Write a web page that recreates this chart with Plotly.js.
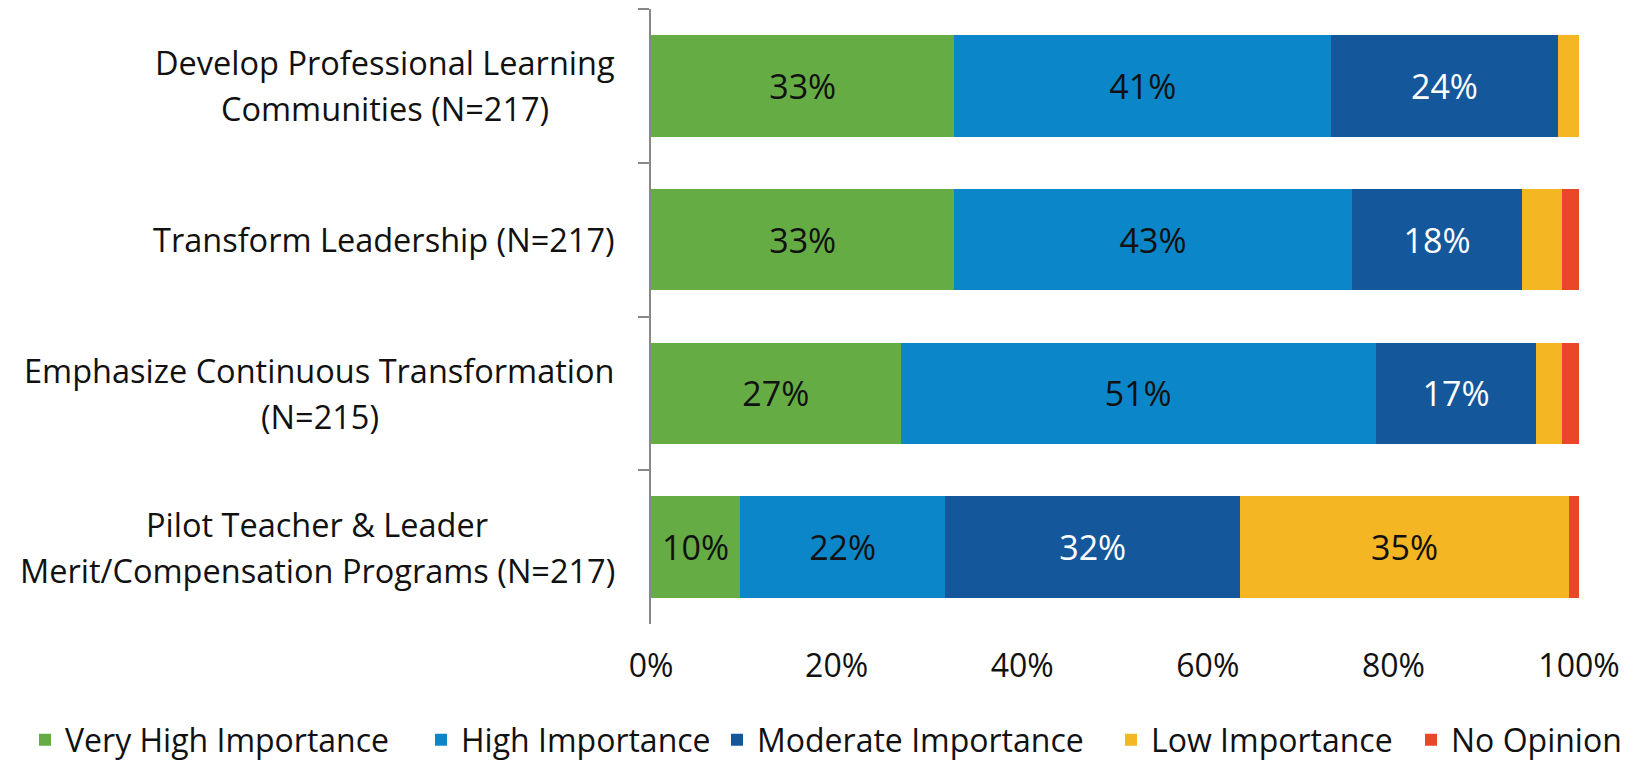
<!DOCTYPE html>
<html>
<head>
<meta charset="utf-8">
<script src="https://cdn.plot.ly/plotly-3.0.1.min.js"></script>
<style>html,body{margin:0;padding:0;background:#fff;}#chart{width:1637px;height:762px;}</style>
</head>
<body>
<div id="chart"></div>
<script>
const categories = [
  "Develop Professional Learning<br>Communities (N=217)",
  "Transform Leadership (N=217)",
  "Emphasize Continuous Transformation<br>(N=215)",
  "Pilot Teacher & Leader<br>Merit/Compensation Programs (N=217)"
];
const seriesNames = ["Very High Importance", "High Importance", "Moderate Importance", "Low Importance", "No Opinion"];
const veryHigh = [32.7, 32.7, 26.9, 9.6];
const high     = [40.6, 42.8, 51.2, 22.1];
const moderate = [24.4, 18.4, 17.3, 31.8];
const low      = [2.3, 4.3, 2.8, 35.4];
const noOpinion= [0.0, 1.8, 1.8, 1.1];
const xTickVals = [0, 20, 40, 60, 80, 100];

const colors = ["#65AC45", "#0B87C9", "#15579B", "#F4B622", "#EA4629"];
const textColors = ["#111111", "#111111", "#ffffff", "#111111", "#111111"];
const FONT = "Open Sans, sans-serif";
const FS_CAT = 32.5, FS_BAR = 34, FS_TICK = 32, FS_LEG = 32;

// legend entry left edges (px) so each entry sits like the reference's one-row legend
const legendLeftPx = [25, 421, 717, 1111, 1411];
const legendKeys = ["legend", "legend2", "legend3", "legend4", "legend5"];

const allSeries = [veryHigh, high, moderate, low, noOpinion];
const traces = allSeries.map((vals, i) => ({
  type: "bar",
  orientation: "h",
  name: seriesNames[i],
  legend: legendKeys[i],
  y: categories,
  x: vals,
  marker: {color: colors[i], line: {width: 0}},
  text: vals.map(v => v >= 8 ? Math.round(v) + "%" : ""),
  textposition: "inside",
  insidetextanchor: "middle",
  textangle: 0,
  constraintext: "none",
  textfont: {family: FONT, size: FS_BAR, color: textColors[i]},
  hoverinfo: "skip"
}));

const LINE_H = 46;
const RIGHT_GAP = 36;

function buildAnnotations(measure) {
  const out = [];
  categories.forEach(cat => {
    const lines = cat.split("<br>");
    const n = lines.length;
    const maxW = measure ? Math.max(...lines.map(measure)) : 0;
    lines.forEach((ln, j) => {
      out.push({
        xref: "paper", yref: "y", x: 0, y: cat,
        xanchor: "center", yanchor: "middle",
        xshift: -RIGHT_GAP - maxW / 2,
        yshift: ((n - 1) / 2 - j) * LINE_H,
        text: ln, showarrow: false,
        font: {family: FONT, size: FS_CAT, color: "#111111"}
      });
    });
  });
  return out;
}

const W = 1637, H = 762;
const layout = {
  width: W, height: H,
  margin: {l: 651, r: 58, t: 9, b: 138, autoexpand: false},
  paper_bgcolor: "#ffffff", plot_bgcolor: "#ffffff",
  barmode: "stack",
  bargap: 0.34,
  showlegend: true,
  xaxis: {
    range: [0, 100], tickvals: xTickVals, ticktext: xTickVals.map(v => v + "%"),
    showgrid: false, zeroline: false, showline: false, ticks: "",
    ticklabelstandoff: 20,
    tickfont: {family: FONT, size: FS_TICK, color: "#111111"},
    fixedrange: true
  },
  yaxis: {
    type: "category", autorange: "reversed",
    showticklabels: false, ticks: "outside", tickson: "boundaries",
    ticklen: 11, tickcolor: "#888888", tickwidth: 2,
    showline: true, linecolor: "#888888", linewidth: 2,
    showgrid: false, zeroline: false, fixedrange: true
  },
  annotations: buildAnnotations(null),
  font: {family: FONT, size: FS_CAT, color: "#111111"}
};
legendKeys.forEach((k, i) => {
  layout[k] = {
    orientation: "h",
    xref: "container", x: legendLeftPx[i] / W, xanchor: "left",
    yref: "container", y: 22 / H, yanchor: "middle",
    font: {family: FONT, size: FS_LEG, color: "#111111"},
    itemwidth: 30, bgcolor: "rgba(0,0,0,0)", borderwidth: 0
  };
});

Plotly.newPlot("chart", traces, layout, {displayModeBar: false, staticPlot: true}).then(gd => {
  const ctx = document.createElement("canvas").getContext("2d");
  ctx.font = FS_CAT + "px 'Open Sans'";
  const measure = s => ctx.measureText(s.replace(/&amp;/g, "&")).width;
  return Plotly.relayout(gd, {annotations: buildAnnotations(measure)});
});
</script>
</body>
</html>
